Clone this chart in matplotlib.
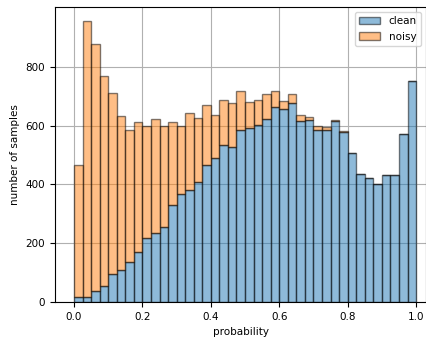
import numpy as np
import matplotlib
matplotlib.use('Agg')
import matplotlib.pyplot as plt

# 40 bins over [0, 1]
bin_edges = np.linspace(0, 1, 41)

# counts: clean part and total height of the stack
clean = [16, 17, 38, 56, 96, 109, 137, 169, 219, 233,
         254, 329, 367, 381, 409, 466, 490, 535, 526, 585,
         593, 601, 622, 662, 656, 678, 614, 619, 586, 585,
         616, 579, 508, 436, 423, 400, 431, 431, 571, 752]
total = [467, 956, 876, 769, 710, 634, 584, 611, 599, 621,
         599, 612, 599, 641, 626, 670, 635, 688, 675, 719,
         679, 687, 707, 718, 684, 708, 637, 630, 597, 596,
         618, 583, 508, 436, 423, 400, 431, 431, 571, 752]
noisy = [t - c for t, c in zip(total, clean)]
labels = ['clean', 'noisy']

centers = (bin_edges[:-1] + bin_edges[1:]) / 2

plt.rcParams['font.size'] = 7.5
fig = plt.figure(figsize=(4.26, 3.40), dpi=100)
ax = fig.add_axes([55/426, 1 - 302/340, 371/426, 295/340])

ax.hist([centers, centers], bins=bin_edges, weights=[clean, noisy],
        stacked=True, alpha=0.5, edgecolor='black', label=labels)

ax.set_xlim(-0.0556, 1.029)
ax.set_ylim(0, 1003)
ax.set_xticks([0.0, 0.2, 0.4, 0.6, 0.8, 1.0])
ax.set_yticks([0, 200, 400, 600, 800])
ax.set_xlabel('probability')
ax.set_ylabel('number of samples')
ax.set_axisbelow(True)
ax.grid(True, color='#b0b0b0', linewidth=0.8)
ax.legend(loc='upper right')

fig.savefig('out.png', dpi=100)
